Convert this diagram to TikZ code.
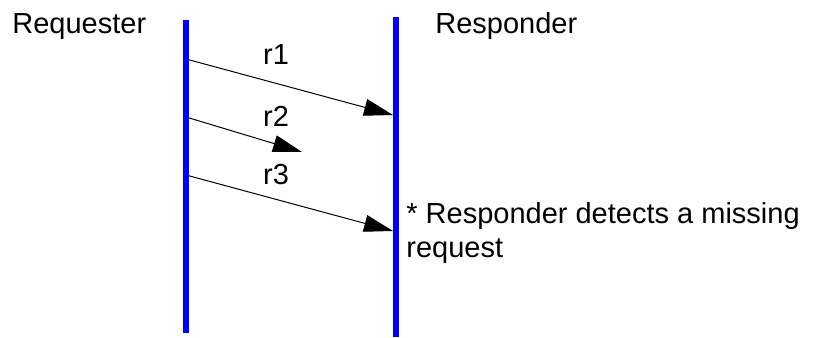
\documentclass[tikz,border=0pt]{standalone}
\usepackage{fontspec}
\setmainfont{Liberation Sans}
\usetikzlibrary{arrows.meta}
\definecolor{lifeblue}{HTML}{0000FF}

\begin{document}
\begin{tikzpicture}[x=0.5pt,y=-0.5pt,
  life/.style={draw=lifeblue,line width=3pt},
  lbl/.style={font=\fontsize{14.5}{17}\selectfont,inner sep=0pt,
              anchor=base west,align=left},
  tag/.style={font=\fontsize{14.5}{17}\selectfont,inner sep=0pt,anchor=base},
  msg/.style={-{Triangle[length=14.5pt,width=8.5pt]},line width=0.5pt}]
  \useasboundingbox (0,0) rectangle (817,337);
  % lifelines
  \coordinate (reqtop) at (186,20);
  \coordinate (reqbot) at (186,333);
  \coordinate (restop) at (396,17);
  \coordinate (resbot) at (396,337);
  \node[lbl] (req) at (12,33) {Requester};
  \node[lbl] (res) at (435,33) {Responder};
  % messages
  \coordinate (q1) at (186,59);
  \coordinate (p1) at (393,115);
  \coordinate (q2) at (186,117);
  \coordinate (m2) at (302,152);
  \coordinate (q3) at (186,175);
  \coordinate (p3) at (393,231);
  \draw[msg] (q1) -- (p1);
  \draw[msg] (q2) -- (m2);
  \draw[msg] (q3) -- (p3);
  \node[tag] (r1) at (276,64) {r1};
  \node[tag] (r2) at (276,126) {r2};
  \node[tag] (r3) at (276,184) {r3};
  \draw[life] (reqtop) -- (reqbot);
  \draw[life] (restop) -- (resbot);
  \node[lbl] (note) at (406,257) {* Responder detects a missing\\request};
\end{tikzpicture}
\end{document}
